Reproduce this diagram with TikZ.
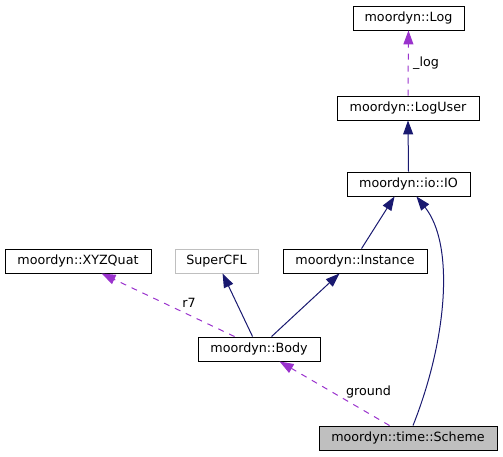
\documentclass[tikz,border=0pt]{standalone}
\usepackage{fontspec}
\setmainfont{DejaVu Sans}
\usetikzlibrary{arrows.meta,calc}
\definecolor{navyedge}{HTML}{191970}
\definecolor{purpedge}{HTML}{9A32CD}
\definecolor{grey75}{HTML}{BFBFBF}
\tikzset{
  cls/.style={draw=black, line width=0.9pt, minimum height=24pt, inner sep=0pt,
    font=\fontsize{12.7}{14}\selectfont, text height=9.4pt, text depth=2.8pt},
  ext/.style={cls, draw=grey75},
  cur/.style={cls, fill=grey75},
  inh/.style={draw=navyedge, line width=1pt, -{Triangle[length=14pt,width=10pt]}},
  use/.style={draw=purpedge, line width=1pt, dash pattern=on 6pt off 6pt,
    -{Triangle[length=14pt,width=10pt]}},
  lbl/.style={font=\fontsize{12.7}{14}\selectfont, inner sep=0pt}
}
\begin{document}
\begin{tikzpicture}[x=1pt,y=-1pt]
\useasboundingbox (0,0) rectangle (503,457);
\node[cls, minimum width=111pt] (Log) at (408.5,18) {moordyn::Log};
\node[cls, minimum width=142pt] (LogUser) at (408,108) {moordyn::LogUser};
\node[cls, minimum width=123pt] (IO) at (408.5,184) {moordyn::io::IO};
\node[cls, minimum width=144pt] (Instance) at (355,261) {moordyn::Instance};
\node[ext, minimum width=83pt] (SuperCFL) at (216.5,261) {SuperCFL};
\node[cls, minimum width=146pt] (XYZQuat) at (78,261) {moordyn::XYZQuat};
\node[cls, minimum width=122pt] (Body) at (259,349) {moordyn::Body};
\node[cur, minimum width=178pt] (Scheme) at (408,438) {moordyn::time::Scheme};

\draw[use] (LogUser.north) -- (Log.south);
\node[lbl] (llog) at (426,63) {\_log};
\draw[inh] (IO.north) -- (LogUser.south);
\draw[inh] ($(Instance.north west)+(79,0)$) -- ($(IO.south west)+(48,0)$);
\draw[inh] ($(Scheme.north)+(5,0)$) .. controls (447,340) and (455,245) .. ($(IO.south east)+(-54,0)$);
\draw[inh] ($(Body.north west)+(74,0)$) -- ($(Instance.south west)+(57,0)$);
\draw[inh] ($(Body.north west)+(55,0)$) -- ($(SuperCFL.south west)+(48,0)$);
\draw[use] ($(Body.north west)+(37,0)$) -- ($(XYZQuat.south west)+(97,0)$);
\node[lbl] (lr7) at (189,303) {r7};
\draw[use] ($(Scheme.north west)+(71,0)$) -- ($(Body.south west)+(82,0)$);
\node[lbl] (lground) at (368.5,392) {ground};
\end{tikzpicture}
\end{document}
